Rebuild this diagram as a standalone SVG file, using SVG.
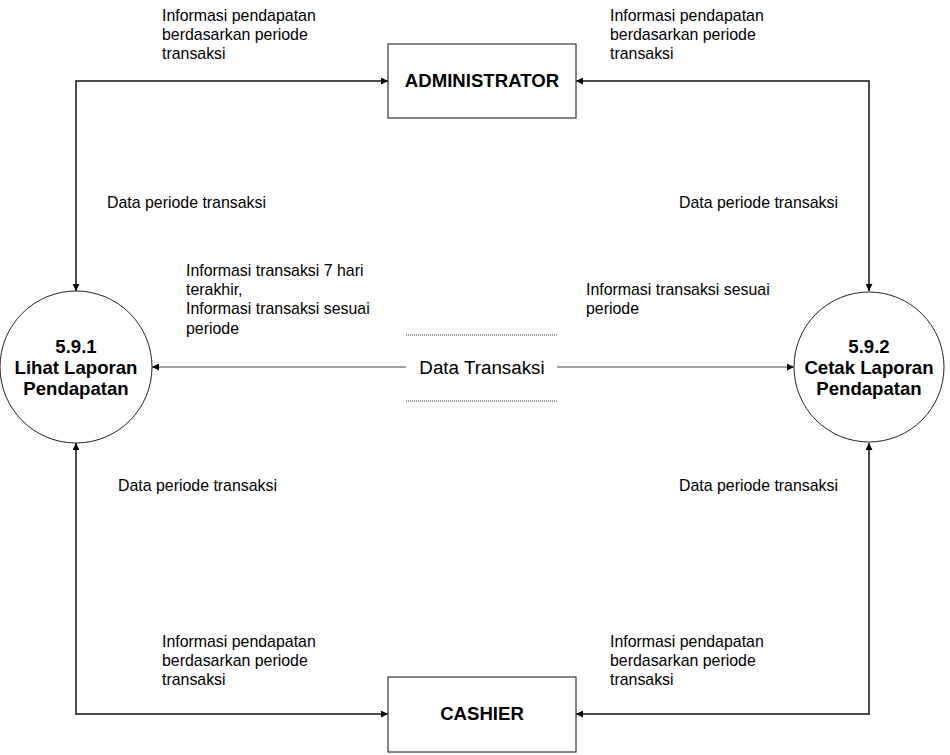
<svg xmlns="http://www.w3.org/2000/svg" width="950" height="755" viewBox="0 0 950 755">
<defs>
<marker id="ah" viewBox="0 0 10 10" refX="10" refY="5" markerWidth="7" markerHeight="7" markerUnits="userSpaceOnUse" orient="auto-start-reverse">
<path d="M0,0 L10,5 L0,10 z" fill="#000"/>
</marker>
<style>
.lbl{font-family:"Liberation Sans",Arial,sans-serif;font-size:15.9px;fill:#000}
.ttl{font-family:"Liberation Sans",Arial,sans-serif;font-size:18.6px;font-weight:bold;fill:#000;text-anchor:middle}
.box{fill:#fff;stroke:#333;stroke-width:1.2}
.circ{fill:#fff;stroke:#222;stroke-width:1}
.con{fill:none;stroke:#111;stroke-width:1.5}
.dat{fill:none;stroke:#808080;stroke-width:1.5}
.dot{stroke:#333;stroke-width:1;stroke-dasharray:1,1}
</style>
</defs>
<rect width="950" height="755" fill="#fff"/>
<g id="connectors">
<path class="con" d="M76,291 V81 H388" marker-start="url(#ah)" marker-end="url(#ah)"/>
<path class="con" d="M576,81 H869 V291" marker-start="url(#ah)" marker-end="url(#ah)"/>
<path class="con" d="M76,443 V714 H388" marker-start="url(#ah)" marker-end="url(#ah)"/>
<path class="con" d="M576,714 H869 V443" marker-start="url(#ah)" marker-end="url(#ah)"/>
<path class="dat" d="M406,367 H152" marker-end="url(#ah)"/>
<path class="dat" d="M557,367 H794" marker-end="url(#ah)"/>
</g>
<g id="admin">
<rect class="box" x="388" y="44" width="188" height="74"/>
<text class="ttl" x="482" y="87">ADMINISTRATOR</text>
</g>
<g id="cashier">
<rect class="box" x="388" y="677" width="188" height="75"/>
<text class="ttl" x="482" y="720">CASHIER</text>
</g>
<g id="p591">
<circle class="circ" cx="76" cy="367" r="76"/>
<text class="ttl" x="76" y="353">5.9.1</text>
<text class="ttl" x="76" y="374">Lihat Laporan</text>
<text class="ttl" x="76" y="395">Pendapatan</text>
</g>
<g id="p592">
<circle class="circ" cx="869" cy="367" r="75"/>
<text class="ttl" x="869" y="353">5.9.2</text>
<text class="ttl" x="869" y="374">Cetak Laporan</text>
<text class="ttl" x="869" y="395">Pendapatan</text>
</g>
<g id="datastore">
<line class="dot" x1="406" y1="335" x2="557" y2="335"/>
<line class="dot" x1="406" y1="401" x2="557" y2="401"/>
<text x="482" y="374" style="font-family:'Liberation Sans',Arial,sans-serif;font-size:18.8px;text-anchor:middle">Data Transaksi</text>
</g>
<g id="labels">
<text class="lbl" x="162" y="21">Informasi pendapatan</text>
<text class="lbl" x="162" y="40">berdasarkan periode</text>
<text class="lbl" x="162" y="59">transaksi</text>
<text class="lbl" x="610" y="21">Informasi pendapatan</text>
<text class="lbl" x="610" y="40">berdasarkan periode</text>
<text class="lbl" x="610" y="59">transaksi</text>
<text class="lbl" x="107" y="208">Data periode transaksi</text>
<text class="lbl" x="679" y="208">Data periode transaksi</text>
<text class="lbl" x="186" y="276">Informasi transaksi 7 hari</text>
<text class="lbl" x="186" y="295">terakhir,</text>
<text class="lbl" x="186" y="314">Informasi transaksi sesuai</text>
<text class="lbl" x="186" y="334">periode</text>
<text class="lbl" x="586" y="295">Informasi transaksi sesuai</text>
<text class="lbl" x="586" y="314">periode</text>
<text class="lbl" x="118" y="491">Data periode transaksi</text>
<text class="lbl" x="679" y="491">Data periode transaksi</text>
<text class="lbl" x="162" y="647">Informasi pendapatan</text>
<text class="lbl" x="162" y="666">berdasarkan periode</text>
<text class="lbl" x="162" y="685">transaksi</text>
<text class="lbl" x="610" y="647">Informasi pendapatan</text>
<text class="lbl" x="610" y="666">berdasarkan periode</text>
<text class="lbl" x="610" y="685">transaksi</text>
</g>
</svg>
